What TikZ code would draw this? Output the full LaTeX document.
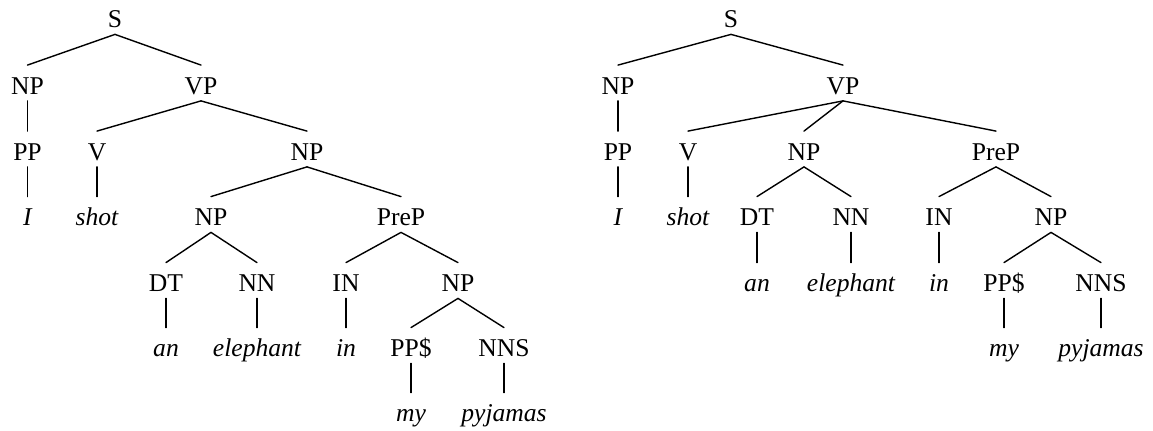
\documentclass[tikz,border=0pt]{standalone}
\usepackage{fontspec}
\setmainfont{Liberation Serif}
\usepackage{tikz}
\usetikzlibrary{positioning}
\tikzset{
  cat/.style={
    anchor=base, inner sep=0pt,
    text height=14.5pt, text depth=3pt,
    font=\fontsize{12.8}{15}\selectfont
  },
  word/.style={cat, font=\fontsize{12.8}{15}\selectfont\itshape},
  branch/.style={line width=0.7pt, line cap=round},
}
\begin{document}
\begin{tikzpicture}[x=0.5pt, y=-0.5pt]
  \useasboundingbox (0,0) rectangle (1153,431);

  % Left tree — PreP attached to the object NP
  \node[cat]  (aS)     at (115,28)    {S};
  \node[cat]  (aNP)    at (27.5,94.5) {NP};
  \node[cat]  (aVP)    at (201,94.5)  {VP};
  \node[cat]  (aPP)    at (27.5,160.5){PP};
  \node[cat]  (aV)     at (97,160.5)  {V};
  \node[cat]  (aNPo)   at (307,160.5) {NP};
  \node[word] (aI)     at (27.5,226)  {I};
  \node[word] (ashot)  at (97,226)    {shot};
  \node[cat]  (aNPe)   at (211,226)   {NP};
  \node[cat]  (aPreP)  at (401,226)   {PreP};
  \node[cat]  (aDT)    at (166,292)   {DT};
  \node[cat]  (aNN)    at (257,292)   {NN};
  \node[cat]  (aIN)    at (346,292)   {IN};
  \node[cat]  (aNPp)   at (458,292)   {NP};
  \node[word] (aan)    at (166,357)   {an};
  \node[word] (aeleph) at (257,357)   {elephant};
  \node[word] (ain)    at (346,357)   {in};
  \node[cat]  (aPPs)   at (411,357)   {PP\$};
  \node[cat]  (aNNS)   at (504,357)   {NNS};
  \node[word] (amy)    at (411,422)   {my};
  \node[word] (apyj)   at (504,422)   {pyjamas};

  % Right tree — PreP attached to the VP
  \node[cat]  (bS)     at (731,28)    {S};
  \node[cat]  (bNP)    at (618,94.5)  {NP};
  \node[cat]  (bVP)    at (843,94.5)  {VP};
  \node[cat]  (bPP)    at (618,160.5) {PP};
  \node[cat]  (bV)     at (688,160.5) {V};
  \node[cat]  (bNPe)   at (804,160.5) {NP};
  \node[cat]  (bPreP)  at (996,160.5) {PreP};
  \node[word] (bI)     at (618,226)   {I};
  \node[word] (bshot)  at (688,226)   {shot};
  \node[cat]  (bDT)    at (757,226)   {DT};
  \node[cat]  (bNN)    at (851,226)   {NN};
  \node[cat]  (bIN)    at (939,226)   {IN};
  \node[cat]  (bNPp)   at (1051,226)  {NP};
  \node[word] (ban)    at (757,292)   {an};
  \node[word] (beleph) at (851,292)   {elephant};
  \node[word] (bin)    at (939,292)   {in};
  \node[cat]  (bPPs)   at (1004,292)  {PP\$};
  \node[cat]  (bNNS)   at (1101,292)  {NNS};
  \node[word] (bmy)    at (1004,357)  {my};
  \node[word] (bpyj)   at (1101,357)  {pyjamas};

  % Branches, left tree
  \draw[branch] (aS.south)    -- (aNP.north);
  \draw[branch] (aS.south)    -- (aVP.north);
  \draw[branch] (aNP.south)   -- (aPP.north);
  \draw[branch] (aPP.south)   -- (aI.north);
  \draw[branch] (aVP.south)   -- (aV.north);
  \draw[branch] (aVP.south)   -- (aNPo.north);
  \draw[branch] (aV.south)    -- (ashot.north);
  \draw[branch] (aNPo.south)  -- (aNPe.north);
  \draw[branch] (aNPo.south)  -- (aPreP.north);
  \draw[branch] (aNPe.south)  -- (aDT.north);
  \draw[branch] (aNPe.south)  -- (aNN.north);
  \draw[branch] (aPreP.south) -- (aIN.north);
  \draw[branch] (aPreP.south) -- (aNPp.north);
  \draw[branch] (aDT.south)   -- (aan.north);
  \draw[branch] (aNN.south)   -- (aeleph.north);
  \draw[branch] (aIN.south)   -- (ain.north);
  \draw[branch] (aNPp.south)  -- (aPPs.north);
  \draw[branch] (aNPp.south)  -- (aNNS.north);
  \draw[branch] (aPPs.south)  -- (amy.north);
  \draw[branch] (aNNS.south)  -- (apyj.north);

  % Branches, right tree
  \draw[branch] (bS.south)    -- (bNP.north);
  \draw[branch] (bS.south)    -- (bVP.north);
  \draw[branch] (bNP.south)   -- (bPP.north);
  \draw[branch] (bPP.south)   -- (bI.north);
  \draw[branch] (bVP.south)   -- (bV.north);
  \draw[branch] (bVP.south)   -- (bNPe.north);
  \draw[branch] (bVP.south)   -- (bPreP.north);
  \draw[branch] (bV.south)    -- (bshot.north);
  \draw[branch] (bNPe.south)  -- (bDT.north);
  \draw[branch] (bNPe.south)  -- (bNN.north);
  \draw[branch] (bPreP.south) -- (bIN.north);
  \draw[branch] (bPreP.south) -- (bNPp.north);
  \draw[branch] (bDT.south)   -- (ban.north);
  \draw[branch] (bNN.south)   -- (beleph.north);
  \draw[branch] (bIN.south)   -- (bin.north);
  \draw[branch] (bNPp.south)  -- (bPPs.north);
  \draw[branch] (bNPp.south)  -- (bNNS.north);
  \draw[branch] (bPPs.south)  -- (bmy.north);
  \draw[branch] (bNNS.south)  -- (bpyj.north);
\end{tikzpicture}
\end{document}
